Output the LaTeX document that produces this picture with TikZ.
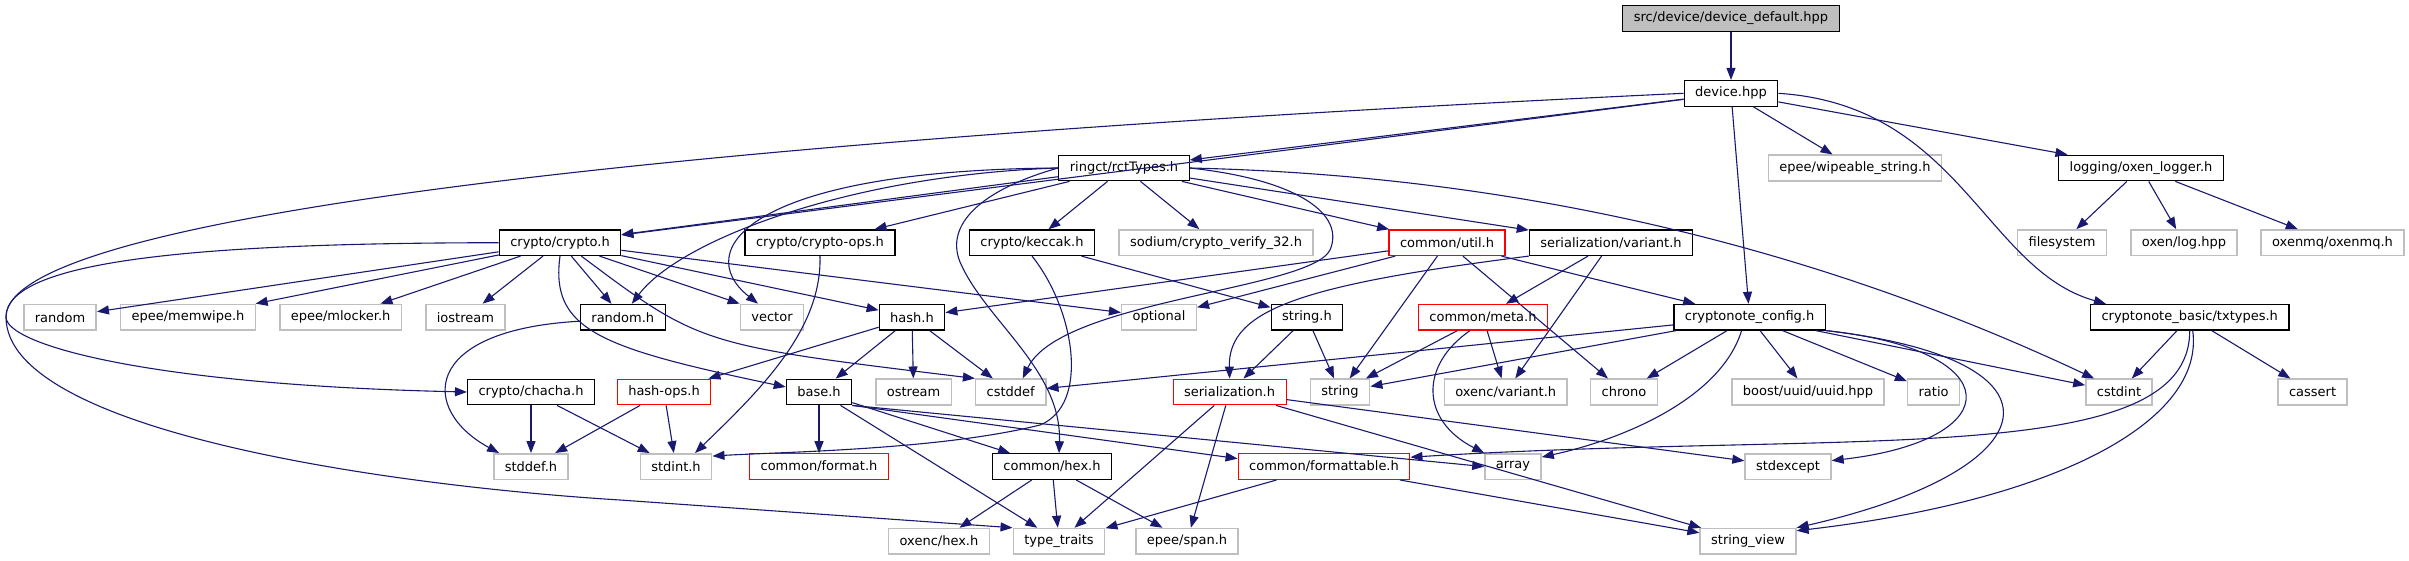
\documentclass[tikz,border=0pt]{standalone}
\usepackage{fontspec}
\setmainfont{DejaVu Sans}
\usetikzlibrary{arrows.meta}
\definecolor{EdgeBlue}{RGB}{25,25,112}
\definecolor{ExtGrey}{RGB}{191,191,191}
\definecolor{TruncRed}{RGB}{255,0,0}
\tikzset{
  hdrbox/.style={draw=black, fill=white, line width=1.2pt,
    font=\fontsize{13}{15}\selectfont, inner xsep=11pt, inner ysep=0pt,
    minimum height=25.6pt},
  sysbox/.style={hdrbox, draw=ExtGrey, line width=1.5pt},
  cutbox/.style={hdrbox, draw=TruncRed},
  rootbox/.style={hdrbox, fill=ExtGrey},
  incarrow/.style={-{Triangle[length=12pt,width=9pt]}, line width=1.1pt, draw=EdgeBlue}
}

\begin{document}
\begin{tikzpicture}[x=1pt, y=-1pt]
  \useasboundingbox (0,0) rectangle (2409,560);
  % files
  \node[rootbox] (default) at (1731,18.5) {src/device/device\_default.hpp};
  \node[hdrbox] (device) at (1731,93.3) {device.hpp};
  \node[hdrbox] (rct) at (1124,168) {ringct/rctTypes.h};
  \node[sysbox] (wipeable) at (1855,168) {epee/wipeable\_string.h};
  \node[hdrbox] (logger) at (2141,168) {logging/oxen\_logger.h};
  \node[hdrbox] (crypto) at (560,242.7) {crypto/crypto.h};
  \node[hdrbox] (cryptoops) at (820,242.7) {crypto/crypto-ops.h};
  \node[hdrbox] (keccak) at (1032,242.7) {crypto/keccak.h};
  \node[sysbox] (sodium) at (1216,242.7) {sodium/crypto\_verify\_32.h};
  \node[cutbox] (util) at (1447,242.7) {common/util.h};
  \node[hdrbox] (sevariant) at (1611,242.7) {serialization/variant.h};
  \node[sysbox] (filesystem) at (2062,242.7) {filesystem};
  \node[sysbox] (oxenlog) at (2184,242.7) {oxen/log.hpp};
  \node[sysbox] (oxenmq) at (2332.5,242.7) {oxenmq/oxenmq.h};
  \node[sysbox] (random) at (60,317.2) {random};
  \node[sysbox] (memwipe) at (188,317.2) {epee/memwipe.h};
  \node[sysbox] (mlocker) at (340.6,317.2) {epee/mlocker.h};
  \node[sysbox] (iostream) at (465.4,317.2) {iostream};
  \node[hdrbox] (randomh) at (622.8,317.2) {random.h};
  \node[sysbox] (vector) at (772,317.2) {vector};
  \node[hdrbox] (hashh) at (912,317.2) {hash.h};
  \node[sysbox] (optional) at (1159,317.2) {optional};
  \node[hdrbox] (stringh) at (1307,317.2) {string.h};
  \node[cutbox] (meta) at (1483,317.2) {common/meta.h};
  \node[hdrbox] (config) at (1749.6,317.2) {cryptonote\_config.h};
  \node[hdrbox] (txtypes) at (2189.7,317.2) {cryptonote\_basic/txtypes.h};
  \node[hdrbox] (chacha) at (531,392) {crypto/chacha.h};
  \node[cutbox] (hashops) at (664,392) {hash-ops.h};
  \node[hdrbox] (base) at (819,392) {base.h};
  \node[sysbox] (ostream) at (913.6,392) {ostream};
  \node[sysbox] (cstddef) at (1010.7,392) {cstddef};
  \node[cutbox] (serialization) at (1229.6,392) {serialization.h};
  \node[sysbox] (string) at (1340,392) {string};
  \node[sysbox] (oxencvariant) at (1505.7,392) {oxenc/variant.h};
  \node[sysbox] (chrono) at (1624,392) {chrono};
  \node[sysbox] (uuid) at (1808,392) {boost/uuid/uuid.hpp};
  \node[sysbox] (ratio) at (1933.6,392) {ratio};
  \node[sysbox] (cstdint) at (2119,392) {cstdint};
  \node[sysbox] (cassert) at (2312.6,392) {cassert};
  \node[sysbox] (stddef) at (531,466.6) {stddef.h};
  \node[sysbox] (stdint) at (676,466.6) {stdint.h};
  \node[cutbox] (format) at (819,466.6) {common/format.h};
  \node[hdrbox] (hex) at (1052,466.6) {common/hex.h};
  \node[cutbox] (formattable) at (1324,466.6) {common/formattable.h};
  \node[sysbox] (array) at (1513,466.6) {array};
  \node[sysbox] (stdexcept) at (1788,466.6) {stdexcept};
  \node[sysbox] (oxenchex) at (939,541.3) {oxenc/hex.h};
  \node[sysbox] (typetraits) at (1059,541.3) {type\_traits};
  \node[sysbox] (span) at (1187,541.3) {epee/span.h};
  \node[sysbox] (stringview) at (1748,541.3) {string\_view};

  % includes of device_default.hpp and device.hpp
  \draw[incarrow] (default) -- (device);
  \draw[incarrow] (device) -- (rct);
  \draw[incarrow] (device) -- (crypto);
  \draw[incarrow] (device.west) .. controls (900,130) and (6,200) .. (6,317)
    .. controls (6,345) and (150,385) .. (chacha.west);
  \draw[incarrow] (device) -- (wipeable);
  \draw[incarrow] (device) -- (logger);
  \draw[incarrow] (device) -- (config);
  \draw[incarrow] (device.east) .. controls (1960,105) and (1985,270) .. ([xshift=16pt]txtypes.north west);
  % ringct/rctTypes.h
  \draw[incarrow] (rct) -- (crypto);
  \draw[incarrow] (rct) -- (cryptoops);
  \draw[incarrow] (rct) -- (keccak);
  \draw[incarrow] (rct) -- (sodium);
  \draw[incarrow] (rct) -- (util);
  \draw[incarrow] (rct) -- (sevariant);
  \draw[incarrow] (rct.east) .. controls (1500,175) and (1800,240) .. ([xshift=9pt]cstdint.north west);
  \draw[incarrow] (rct.west) .. controls (850,175) and (680,240) .. ([xshift=9pt]randomh.north);
  \draw[incarrow] (rct.west) .. controls (750,170) and (690,250) .. ([xshift=-14pt]vector.north);
  \draw[incarrow] (rct.east) .. controls (1300,180) and (1345,215) .. (1330,250)
    .. controls (1310,290) and (1060,300) .. ([xshift=12pt]cstddef.north);
  \draw[incarrow] (rct.west) .. controls (980,190) and (945,225) .. (960,262)
    .. controls (985,320) and (1062,370) .. ([xshift=7pt]hex.north);
  % logging
  \draw[incarrow] (logger) -- (filesystem);
  \draw[incarrow] (logger) -- (oxenlog);
  \draw[incarrow] (logger) -- (oxenmq);
  % crypto/crypto.h
  \draw[incarrow] (crypto) -- (random);
  \draw[incarrow] (crypto) -- (memwipe);
  \draw[incarrow] (crypto) -- (mlocker);
  \draw[incarrow] (crypto) -- (iostream);
  \draw[incarrow] (crypto) -- (randomh);
  \draw[incarrow] (crypto) -- (vector.north west);
  \draw[incarrow] (crypto) -- (hashh);
  \draw[incarrow] (crypto) -- (optional);
  \draw[incarrow] ([xshift=-40pt]crypto.south east) .. controls (700,345) .. (cstddef.north west);
  \draw[incarrow] (crypto.south) .. controls (550,330) and (600,348) .. ([yshift=5pt]base.west);
  \draw[incarrow] (crypto.west) .. controls (200,243) and (6,260) .. (6,317)
    .. controls (6,430) and (380,485) .. (620,500) -- (typetraits.north west);
  \draw[incarrow] (cryptoops.south) .. controls (822,330) and (760,390) .. ([xshift=19pt]stdint.north);
  \draw[incarrow] (keccak.south) .. controls (1075,310) and (1090,405) .. (1040,425)
    .. controls (940,450) and (780,452) .. ([yshift=-3pt]stdint.north east);
  \draw[incarrow] (keccak) -- (stringh);
  % common/util.h and serialization/variant.h
  \draw[incarrow] (util) -- (hashh);
  \draw[incarrow] (util) -- (optional);
  \draw[incarrow] (util) -- (string);
  \draw[incarrow] (util) -- (chrono);
  \draw[incarrow] (util) -- (config);
  \draw[incarrow] (sevariant.south west) .. controls (1300,285) and (1228,310) .. (serialization.north);
  \draw[incarrow] (sevariant) -- (meta);
  \draw[incarrow] (sevariant) -- (oxencvariant);
  % third row
  \draw[incarrow] ([yshift=-4pt]randomh.west) .. controls (420,330) and (420,410) .. ([xshift=6pt]stddef.north west);
  \draw[incarrow] (hashh) -- (hashops);
  \draw[incarrow] (hashh) -- (base);
  \draw[incarrow] (hashh) -- (ostream);
  \draw[incarrow] (hashh) -- (cstddef);
  \draw[incarrow] (stringh) -- (serialization);
  \draw[incarrow] (stringh) -- (string);
  \draw[incarrow] (meta) -- (string);
  \draw[incarrow] (meta) -- (oxencvariant);
  \draw[incarrow] ([xshift=-13pt]meta.south) .. controls (1420,365) and (1420,420) .. (array.north west);
  \draw[incarrow] (config) -- (cstddef);
  \draw[incarrow] (config) -- (string);
  \draw[incarrow] (config) -- (chrono);
  \draw[incarrow] (config) -- (uuid);
  \draw[incarrow] (config) -- (ratio);
  \draw[incarrow] (config) -- (cstdint);
  \draw[incarrow] (config.south east) .. controls (2010,350) and (2010,440) .. ([yshift=6pt]stdexcept.east);
  \draw[incarrow] (config.south east) .. controls (2080,360) and (2050,470) .. (stringview.north east);
  \draw[incarrow] ([xshift=-8pt]config.south) .. controls (1720,400) and (1620,440) .. ([yshift=-4pt]array.north east);
  \draw[incarrow] (txtypes) -- (cstdint);
  \draw[incarrow] (txtypes) -- (cassert);
  \draw[incarrow] (txtypes.south) .. controls (2190,470) and (1850,430) .. ([yshift=-4pt]formattable.north east);
  \draw[incarrow] ([xshift=3pt]txtypes.south) .. controls (2205,420) and (2060,500) .. ([yshift=-3pt]stringview.north east);
  % fourth row
  \draw[incarrow] (chacha) -- (stddef);
  \draw[incarrow] (chacha) -- (stdint);
  \draw[incarrow] (hashops) -- (stddef);
  \draw[incarrow] (hashops) -- (stdint);
  \draw[incarrow] (base) -- (format);
  \draw[incarrow] (base) -- (typetraits);
  \draw[incarrow] (base) -- (hex);
  \draw[incarrow] (base.south east) -- (array.west);
  \draw[incarrow] (base.south east) -- ([yshift=8pt]formattable.west);
  \draw[incarrow] (serialization) -- (typetraits);
  \draw[incarrow] (serialization) -- (span);
  \draw[incarrow] (serialization) -- (stringview);
  \draw[incarrow] (serialization) -- (stdexcept);
  \draw[incarrow] (hex) -- (oxenchex);
  \draw[incarrow] (hex) -- (typetraits);
  \draw[incarrow] (hex) -- (span);
  \draw[incarrow] (formattable) -- (typetraits);
  \draw[incarrow] (formattable) -- (stringview);
\end{tikzpicture}
\end{document}
